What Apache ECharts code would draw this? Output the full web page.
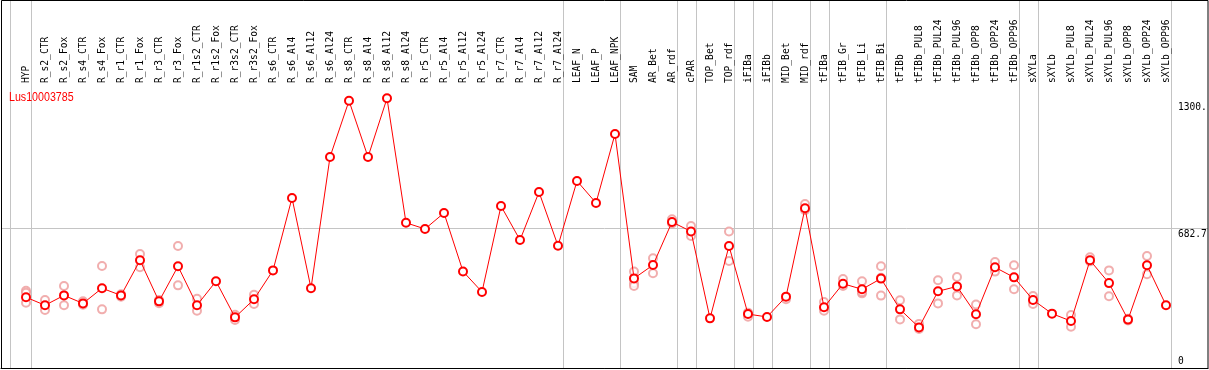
<!DOCTYPE html>
<html><head><meta charset="utf-8">
<script src="https://cdn.jsdelivr.net/npm/echarts@6/dist/echarts.min.js"></script>
<style>html,body{margin:0;padding:0;background:#fff;overflow:hidden}#c{width:1209px;height:370px}</style>
</head><body><div id="c"></div>
<script>
const geneName = 'Lus10003785';
const categories = ['HYP','R_s2_CTR','R_s2_Fox','R_s4_CTR','R_s4_Fox','R_r1_CTR','R_r1_Fox','R_r3_CTR','R_r3_Fox','R_r1s2_CTR','R_r1s2_Fox','R_r3s2_CTR','R_r3s2_Fox','R_s6_CTR','R_s6_Al4','R_s6_Al12','R_s6_Al24','R_s8_CTR','R_s8_Al4','R_s8_Al12','R_s8_Al24','R_r5_CTR','R_r5_Al4','R_r5_Al12','R_r5_Al24','R_r7_CTR','R_r7_Al4','R_r7_Al12','R_r7_Al24','LEAF_N','LEAF_P','LEAF_NPK','SAM','AR_Bet','AR_rdf','cPAR','TOP_Bet','TOP_rdf','iFIBa','iFIBb','MID_Bet','MID_rdf','tFIBa','tFIB_Gr','tFIB_Li','tFIB_Bi','tFIBb','tFIBb_PUL8','tFIBb_PUL24','tFIBb_PUL96','tFIBb_OPP8','tFIBb_OPP24','tFIBb_OPP96','sXYLa','sXYLb','sXYLb_PUL8','sXYLb_PUL24','sXYLb_PUL96','sXYLb_OPP8','sXYLb_OPP24','sXYLb_OPP96'];
const meanValues = [345,306,354,315,389,354,525,325,496,306,423,247,335,476,829,389,1029,1303,1029,1315,708,678,756,471,371,790,624,858,596,912,805,1141,437,502,712,666,242,595,263,249,348,779,296,411,384,436,286,198,374,398,262,491,442,332,265,229,525,414,236,501,306];
const replicateValues = [[377,367,318],[332,283],[400,306],[325,309],[497,286],[360,348],[556,491],[332,316],[595,403],[338,279],[],[260,234],[357,312],
  [],[],[],[],[],[],[],[],[],[],[],[],[],[],[],[],[],[],[],
  [470,413,400],[535,462],[725,705],[692,644],[],[666,522],[270,250],[],[335],[800,770],[322,279],[434,400],[423,364,370],[496,353,440],[330,237],[215,190],[428,315],[444,354],[310,213],[517,470],[501,384],[351,312],[],[258,201],[540,520],[476,350],[240,232],[546,457],[]];
const groupEndIndices = [0,28,31,34,35,37,38,39,41,42,45,52,53,60];
const leadingSeparator = -0.83;
const yTickValues = [0, 682.7, 1300];
const yTickLabels = ['0', '682.7', '1300.'];

const monoFont = "'DejaVu Sans Mono', 'Liberation Mono', monospace";
const chart = echarts.init(document.getElementById('c'), null, {renderer: 'canvas'});
const xMin = -25 / 19, xMax = xMin + 1207 / 19;

const replicateData = [];
replicateValues.forEach((arr, i) => arr.forEach(v => replicateData.push([i, v])));

chart.setOption({
  animation: false,
  backgroundColor: '#fff',
  grid: {left: 1, right: 1, top: 88, bottom: 2, containLabel: false},
  xAxis: {
    type: 'value', position: 'top', min: xMin, max: xMax, offset: 3,
    axisLine: {show: true, lineStyle: {color: '#000', width: 1}},
    axisTick: {show: false},
    splitLine: {show: false},
    axisLabel: {
      customValues: categories.map((c, i) => i),
      rotate: 90, margin: 2, color: '#000', fontFamily: monoFont, fontSize: 9.6,
      formatter: v => categories[Math.round(v)] || ''
    }
  },
  yAxis: {
    type: 'value', min: 0, max: 1365.4, interval: 682.7,
    axisLine: {show: false}, axisTick: {show: false}, axisLabel: {show: false},
    splitLine: {show: true, showMinLine: false, showMaxLine: false, lineStyle: {color: '#c4c4c4', width: 1}}
  },
  series: [
    {
      type: 'scatter', data: replicateData, symbol: 'emptyCircle', symbolSize: 8, z: 2,
      itemStyle: {color: '#ee9a9a', borderColor: '#ee9a9a', borderWidth: 1.3}
    },
    {
      type: 'line', data: meanValues.map((v, i) => [i, v]), symbol: 'emptyCircle', symbolSize: 8, z: 3,
      lineStyle: {color: '#ff0000', width: 1},
      itemStyle: {color: '#ff0000', borderColor: '#ff0000', borderWidth: 1.6}
    }
  ]
});

const graphics = [];
const seps = [leadingSeparator].concat(groupEndIndices.map(i => i + 0.24));
seps.forEach(s => {
  const x = Math.round(chart.convertToPixel({xAxisIndex: 0}, s)) + 0.5;
  graphics.push({type: 'line', z: 0, silent: true, shape: {x1: x, y1: 0, x2: x, y2: 368}, style: {stroke: '#c4c4c4', lineWidth: 1}});
});
graphics.push({type: 'rect', z: 100, silent: true, shape: {x: 1.5, y: 0.5, width: 1206.5, height: 368}, style: {fill: 'none', stroke: '#000', lineWidth: 1}});
yTickValues.forEach((v, k) => {
  const y = chart.convertToPixel({yAxisIndex: 0}, v);
  graphics.push({type: 'text', z: 100, silent: true, x: 1178, y: v === 0 ? y - 2 : y + 1,
    style: {text: yTickLabels[k], fill: '#000', font: '9.6px ' + monoFont, textAlign: 'left', textVerticalAlign: v === 0 ? 'bottom' : 'top'}});
});
graphics.push({type: 'text', z: 100, silent: true, x: 9, y: 91, scaleX: 0.82,
  style: {text: geneName, fill: '#ff0000', font: "13px 'Liberation Sans', Arial, sans-serif", textAlign: 'left', textVerticalAlign: 'top'}});
chart.setOption({graphic: graphics});
</script></body></html>
